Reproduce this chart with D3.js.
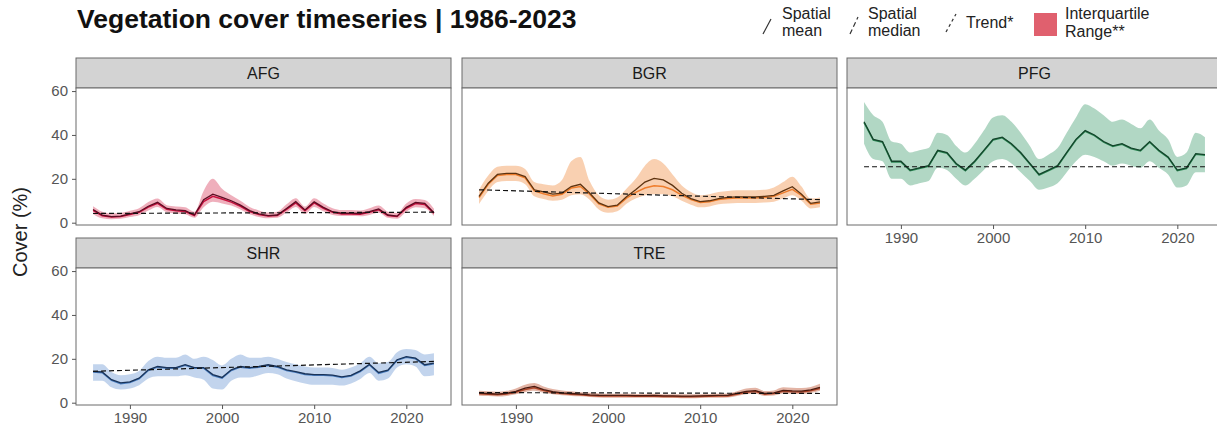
<!DOCTYPE html>
<html>
<head>
<meta charset="utf-8">
<script src="https://cdn.jsdelivr.net/npm/d3@7"></script>
<style>
  body { margin: 0; background: #fff; }
  svg { display: block; }
  text { font-family: "Liberation Sans", Arial, Helvetica, sans-serif; }
</style>
</head>
<body>
<svg id="chart" width="1217" height="434"></svg>
<script>
// ---- data -------------------------------------------------------------
const years = d3.range(1986, 2024);           // 1986 … 2023
const classes = ["AFG", "BGR", "PFG", "SHR", "TRE"];
const xTicks = [1990, 2000, 2010, 2020];
const yTicks = [0, 20, 40, 60];

// Annual fractional cover (%), spatial mean / median / quartiles
const afgMean   = [6.0,3.5,2.8,3.0,4.0,5.0,7.5,9.3,6.5,5.8,5.5,3.5,10.5,13.0,11.5,10.0,8.0,5.5,4.0,3.2,3.5,6.5,9.6,5.8,9.5,7.0,5.0,4.3,4.3,4.2,5.0,6.3,3.5,3.0,7.0,9.2,8.8,4.5];
const afgMedian = [5.6,3.2,2.6,2.8,3.7,4.7,7.1,8.8,6.1,5.5,5.1,3.3,9.6,12.0,10.8,9.4,7.5,5.1,3.7,3.0,3.3,6.1,9.0,5.4,9.0,6.6,4.7,4.0,4.0,3.9,4.7,5.9,3.3,2.8,6.6,8.7,8.3,4.3];
const afgQ25    = [4.0,2.0,1.6,1.8,2.6,3.4,5.6,7.2,4.8,4.2,3.8,2.2,7.0,9.5,8.8,7.8,6.0,3.8,2.6,2.0,2.2,4.6,7.2,4.0,7.2,5.2,3.5,3.0,3.0,2.9,3.5,4.5,2.2,1.8,5.0,7.0,6.6,3.0];
const afgQ75    = [7.5,5.0,4.2,4.4,5.4,6.6,9.4,11.0,8.0,7.4,7.0,5.0,14.5,20.0,15.5,12.5,10.0,7.2,5.6,4.6,5.0,8.4,11.2,7.4,11.2,8.8,6.6,5.8,5.8,5.6,6.6,7.8,5.0,4.4,8.8,10.8,10.4,6.4];

const bgrMean   = [12.0,18.0,22.0,22.5,22.5,21.0,15.0,14.0,13.0,13.5,16.5,17.5,13.5,9.0,7.3,8.0,11.8,15.0,18.5,20.2,19.5,17.0,13.4,11.0,9.6,10.0,11.0,11.5,11.8,11.8,11.8,12.0,12.5,14.5,16.4,13.0,8.8,9.5];
const bgrMedian = [11.5,17.5,21.5,22.0,22.0,20.5,14.5,13.2,12.2,13.0,15.8,16.5,13.0,8.6,7.0,7.6,11.2,13.8,15.8,16.8,16.5,15.0,12.6,10.6,9.2,9.6,10.6,11.0,11.3,11.3,11.3,11.5,12.0,13.6,15.2,12.4,8.4,9.0];
const bgrQ25    = [8.5,14.5,18.5,19.0,19.0,17.5,12.0,10.8,10.0,10.5,12.5,13.0,10.5,6.0,4.5,5.2,8.6,11.0,12.5,13.0,13.0,12.0,10.0,8.2,7.0,7.4,8.4,8.8,9.0,9.0,9.0,9.2,9.6,11.0,12.5,10.0,6.5,7.0];
const bgrQ75    = [15.0,21.5,25.5,26.0,26.0,24.5,18.5,17.5,17.0,19.5,28.0,30.0,19.0,12.5,10.5,11.5,15.5,20.0,26.0,29.0,27.0,22.0,17.0,14.0,12.5,13.0,14.0,14.5,14.8,14.8,14.8,15.0,16.0,18.5,21.0,16.5,11.0,11.5];

const pfgMean   = [46.0,38.0,37.0,28.0,28.0,24.0,25.0,26.0,33.0,32.0,27.0,24.0,28.0,33.0,38.0,39.0,36.0,32.0,27.0,22.0,24.0,26.0,32.0,38.0,42.0,40.0,37.0,35.0,36.0,34.0,33.0,37.0,33.0,30.0,24.0,25.0,31.5,31.0];
const pfgMedian = [45.6,37.7,36.7,27.7,27.7,23.7,24.7,25.7,32.7,31.7,26.7,23.7,27.7,32.7,37.7,38.7,35.7,31.7,26.7,21.7,23.7,25.7,31.7,37.7,41.7,39.7,36.7,34.7,35.7,33.7,32.7,36.7,32.7,29.7,23.7,24.7,31.2,30.7];
const pfgQ25    = [36.0,29.0,28.0,20.0,20.0,17.0,18.0,19.0,25.0,24.0,20.0,17.0,20.0,24.0,28.0,29.0,27.0,23.0,19.0,15.0,16.0,18.0,23.0,28.0,31.0,30.0,28.0,26.0,27.0,26.0,25.0,28.0,25.0,22.0,16.0,17.0,23.0,23.0];
const pfgQ75    = [55.0,49.0,46.0,37.0,36.0,32.0,33.0,34.0,41.0,40.0,35.0,32.0,36.0,42.0,48.0,49.0,46.0,41.0,35.0,29.0,31.0,34.0,41.0,48.0,54.0,52.0,49.0,46.0,47.0,45.0,43.0,47.0,42.0,38.0,30.0,32.0,41.0,39.0];

const shrMean   = [14.3,14.0,10.5,9.0,9.5,11.2,15.0,16.5,16.0,16.0,17.3,16.0,16.0,12.8,11.5,15.0,16.5,16.0,16.5,17.3,16.5,15.0,14.2,13.2,12.8,12.8,12.6,11.8,12.5,14.5,17.5,13.8,14.8,19.6,21.0,20.3,17.3,18.0];
const shrMedian = [14.0,13.7,10.2,8.7,9.2,10.9,14.7,16.2,15.7,15.7,17.0,15.7,15.7,12.4,11.2,14.7,16.2,15.7,16.2,17.0,16.2,14.7,13.9,12.9,12.5,12.5,12.3,11.5,12.2,14.2,17.2,13.4,14.5,19.3,20.7,20.0,17.0,17.7];
const shrQ25    = [10.0,10.0,7.0,6.0,6.5,8.0,11.0,12.0,12.0,12.0,12.5,11.5,10.5,6.5,6.0,10.0,11.5,11.5,12.5,13.5,13.0,11.0,9.8,8.8,8.2,8.2,8.2,7.8,8.8,10.8,13.5,10.0,11.0,16.0,17.5,16.5,12.0,12.5];
const shrQ75    = [17.5,17.5,14.0,12.5,13.0,14.5,19.0,21.0,20.5,20.5,22.0,20.0,21.0,19.5,17.0,20.0,22.0,20.5,20.5,21.0,20.0,18.5,17.5,16.5,16.0,16.0,15.8,15.0,16.0,18.0,21.0,18.0,18.5,23.0,24.5,24.0,22.0,22.5];

const treMean   = [4.4,4.2,3.9,4.3,5.2,6.6,7.4,6.0,5.0,4.5,4.2,3.9,3.6,3.4,3.3,3.3,3.3,3.2,3.2,3.3,3.1,3.1,3.0,3.0,3.1,3.2,3.3,3.4,4.2,5.2,5.5,4.2,4.5,5.6,5.4,5.3,5.8,7.0];
const treMedian = [4.1,3.9,3.6,4.0,4.8,6.0,6.8,5.6,4.7,4.2,3.9,3.6,3.3,3.1,3.0,3.0,3.0,2.9,2.9,3.0,2.8,2.8,2.7,2.7,2.8,2.9,3.0,3.1,3.9,4.8,5.1,3.9,4.2,5.2,5.0,4.9,5.4,6.5];
const treQ25    = [3.2,3.0,2.8,3.1,3.8,4.8,5.4,4.5,3.8,3.4,3.1,2.9,2.6,2.4,2.3,2.3,2.3,2.2,2.2,2.3,2.1,2.1,2.0,2.0,2.1,2.2,2.3,2.4,3.1,3.9,4.1,3.1,3.3,4.2,4.1,4.0,4.4,5.4];
const treQ75    = [5.4,5.2,5.0,5.4,6.5,8.2,9.0,7.4,6.2,5.6,5.2,4.8,4.5,4.2,4.1,4.1,4.1,4.0,4.0,4.1,3.9,3.9,3.8,3.8,3.9,4.0,4.1,4.2,5.2,6.5,6.8,5.3,5.6,7.0,6.8,6.7,7.2,8.6];

// Linear trend, value at 1986 and at 2023
const trendStart = [4.2, 15.0, 25.5, 14.3, 4.6];
const trendEnd   = [4.8, 10.5, 25.5, 18.8, 4.2];

// ---- styling ----------------------------------------------------------
const palette = {
  AFG: { band: "#e0607a", median: "#c8103e", mean: "#5c0b22" },
  BGR: { band: "#f4a263", median: "#ef7d2c", mean: "#5e3310" },
  PFG: { band: "#63b08a", median: "#2e8b57", mean: "#14442b" },
  SHR: { band: "#86aadb", median: "#4a7ec0", mean: "#1a3358" },
  TRE: { band: "#c86a4c", median: "#b2472a", mean: "#4a1a10" }
};

const series = {
  AFG: { mean: afgMean, median: afgMedian, q25: afgQ25, q75: afgQ75 },
  BGR: { mean: bgrMean, median: bgrMedian, q25: bgrQ25, q75: bgrQ75 },
  PFG: { mean: pfgMean, median: pfgMedian, q25: pfgQ25, q75: pfgQ75 },
  SHR: { mean: shrMean, median: shrMedian, q25: shrQ25, q75: shrQ75 },
  TRE: { mean: treMean, median: treMedian, q25: treQ25, q75: treQ75 }
};

// ---- layout -----------------------------------------------------------
const svg = d3.select("#chart");
const colX = [76, 462, 847];
const rowY = [58, 238];
const panelW = 375, stripH = 30, panelH = 137;

const x = d3.scaleLinear().domain([1984.15, 2024.85]).range([0, panelW]);
const y = d3.scaleLinear().domain([-1.05, 61.4]).range([panelH, 0]);

const facets = classes.map((c, i) => ({
  name: c, idx: i,
  col: i < 3 ? i : i - 3,
  row: i < 3 ? 0 : 1
}));

// title
svg.append("text")
  .attr("x", 77).attr("y", 28)
  .attr("font-size", 26.5).attr("font-weight", "bold").attr("fill", "#111")
  .text("Vegetation cover timeseries | 1986-2023");

// shared y-axis title
svg.append("text")
  .attr("transform", "translate(27,232) rotate(-90)")
  .attr("text-anchor", "middle")
  .attr("font-size", 20).attr("fill", "#222")
  .text("Cover (%)");

facets.forEach(f => {
  const left = colX[f.col];
  const top = rowY[f.row];
  const g = svg.append("g").attr("transform", `translate(${left},${top})`);

  // strip
  g.append("rect").attr("x", 0).attr("y", 0).attr("width", panelW).attr("height", stripH)
    .attr("fill", "#d3d3d3").attr("stroke", "#6a6a6a").attr("stroke-width", 1);
  g.append("text").attr("x", panelW / 2).attr("y", stripH / 2 + 6)
    .attr("text-anchor", "middle").attr("font-size", 16).attr("fill", "#1a1a1a")
    .text(f.name);

  const p = g.append("g").attr("transform", `translate(0,${stripH})`);
  p.append("rect").attr("width", panelW).attr("height", panelH).attr("fill", "#fff");

  const s = series[f.name];
  const col = palette[f.name];
  const rows = years.map((yr, k) => ({ yr, mean: s.mean[k], median: s.median[k], q25: s.q25[k], q75: s.q75[k] }));

  // interquartile band
  p.append("path").datum(rows)
    .attr("fill", col.band).attr("fill-opacity", 0.5)
    .attr("d", d3.area().curve(d3.curveMonotoneX)
      .x(d => x(d.yr)).y0(d => y(d.q25)).y1(d => y(d.q75)));

  // spatial median
  p.append("path").datum(rows)
    .attr("fill", "none").attr("stroke", col.median).attr("stroke-width", 1.5)
    .attr("d", d3.line().x(d => x(d.yr)).y(d => y(d.median)));

  // spatial mean
  p.append("path").datum(rows)
    .attr("fill", "none").attr("stroke", col.mean).attr("stroke-width", 1.3)
    .attr("d", d3.line().x(d => x(d.yr)).y(d => y(d.mean)));

  // trend
  p.append("line")
    .attr("x1", x(years[0])).attr("x2", x(years[years.length - 1]))
    .attr("y1", y(trendStart[f.idx])).attr("y2", y(trendEnd[f.idx]))
    .attr("stroke", "#111").attr("stroke-width", 1.2).attr("stroke-dasharray", "5,3");

  // border
  p.append("rect").attr("width", panelW).attr("height", panelH)
    .attr("fill", "none").attr("stroke", "#6a6a6a").attr("stroke-width", 1);

  // y axis on the left column
  if (f.col === 0) {
    const ya = p.append("g").call(d3.axisLeft(y).tickValues(yTicks).tickSize(4).tickPadding(4));
    ya.select(".domain").remove();
    ya.selectAll("line").attr("stroke", "#555");
    ya.selectAll("text").attr("font-size", 15).attr("fill", "#555")
      .style("font-family", "Liberation Sans, Arial, sans-serif");
  }
  // x axis on the lowest panel of each column
  if (f.row === 1 || f.col === 2) {
    const xa = p.append("g").attr("transform", `translate(0,${panelH})`)
      .call(d3.axisBottom(x).tickValues(xTicks).tickFormat(d3.format("d")).tickSize(4).tickPadding(3));
    xa.select(".domain").remove();
    xa.selectAll("line").attr("stroke", "#555");
    xa.selectAll("text").attr("font-size", 15).attr("fill", "#555")
      .style("font-family", "Liberation Sans, Arial, sans-serif");
  }
});

// ---- legend -----------------------------------------------------------
const lg = svg.append("g").attr("font-size", 16).attr("fill", "#222");
const keyLine = (x1, y1, x2, y2, dash) => {
  const l = lg.append("line").attr("x1", x1).attr("y1", y1).attr("x2", x2).attr("y2", y2)
    .attr("stroke", "#333").attr("stroke-width", 1.2);
  if (dash) l.attr("stroke-dasharray", dash);
};
keyLine(763, 34, 771, 19, null);
lg.append("text").attr("x", 782).attr("y", 19).text("Spatial");
lg.append("text").attr("x", 782).attr("y", 36).text("mean");

keyLine(850, 34, 858, 17, "5,3");
lg.append("text").attr("x", 868).attr("y", 19).text("Spatial");
lg.append("text").attr("x", 868).attr("y", 36).text("median");

keyLine(946, 32, 956, 14, "3,3");
lg.append("text").attr("x", 966).attr("y", 28).text("Trend*");

lg.append("rect").attr("x", 1034).attr("y", 13).attr("width", 23).attr("height", 23)
  .attr("fill", "#e0606e");
lg.append("text").attr("x", 1065).attr("y", 19).text("Interquartile");
lg.append("text").attr("x", 1065).attr("y", 37).text("Range**");
</script>
</body>
</html>
